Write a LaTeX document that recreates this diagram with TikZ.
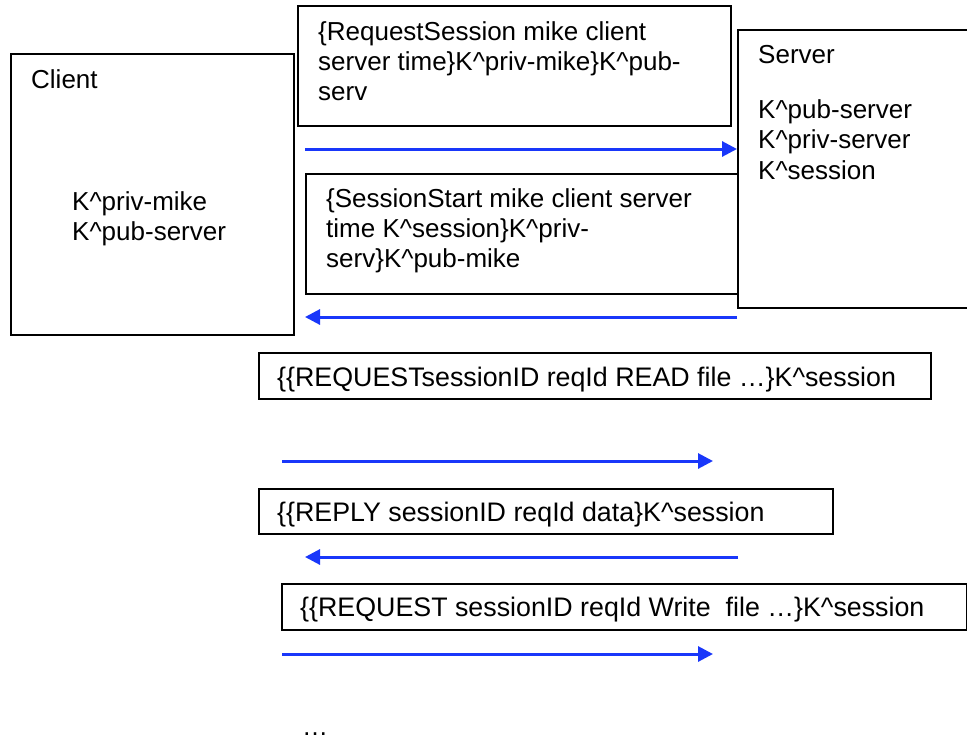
\documentclass[tikz,border=0pt]{standalone}
\usepackage{fontspec}
\setmainfont{Liberation Sans}
\usetikzlibrary{arrows.meta}
\definecolor{arrowblue}{RGB}{25,55,250}
\begin{document}
\begin{tikzpicture}[x=1pt,y=-1pt,
  txt/.style={anchor=base west, inner sep=0pt, font=\fontsize{26}{30}\selectfont},
  wtxt/.style={anchor=base west, inner sep=0pt, font=\fontsize{26.8}{30}\selectfont},
  box/.style={draw, line width=1.5pt, anchor=north west, inner sep=0pt},
  msg/.style={draw=arrowblue, line width=3pt, -{Triangle[length=15pt,width=15pt]}}]
\clip (0,0) rectangle (967,740);
\fill[white] (0,0) rectangle (967,740);

% participants
\node[box, line width=2pt, minimum width=283pt, minimum height=281pt] (client) at (10,53) {};
\node[box, minimum width=270pt, minimum height=278pt] (server) at (737,29) {};
\node[txt] (clientlbl) at (31,88) {Client};
\node[txt] (ck1) at (72,210) {K\^{}priv-mike};
\node[txt] (ck2) at (72,240) {K\^{}pub-server};
\node[txt] (serverlbl) at (758,63) {Server};
\node[txt] (sk1) at (758,118) {K\^{}pub-server};
\node[txt] (sk2) at (758,148) {K\^{}priv-server};
\node[txt] (sk3) at (758,179) {K\^{}session};

% message 1
\node[box, fill=white, minimum width=433pt, minimum height=120pt] (m1) at (297,5) {};
\node[txt] (m1a) at (318,40) {\{RequestSession mike client};
\node[txt] (m1b) at (318,70) {server time\}K\^{}priv-mike\}K\^{}pub-};
\node[txt] (m1c) at (318,100) {serv};

% message 2
\node[box, fill=white, minimum width=432pt, minimum height=120pt] (m2) at (305,173) {};
\node[txt] (m2a) at (326,207) {\{SessionStart mike client server};
\node[txt] (m2b) at (326,237) {time K\^{}session\}K\^{}priv-};
\node[txt] (m2c) at (326,267) {serv\}K\^{}pub-mike};

% message 3
\node[box, minimum width=672pt, minimum height=46pt] (m3) at (258,352) {};
\node[wtxt] (m3a) at (277,386) {\{\{REQUESTsessionID reqId READ file …\}K\^{}session};
% message 4
\node[box, minimum width=574pt, minimum height=45pt] (m4) at (258,488) {};
\node[wtxt] (m4a) at (277,521) {\{\{REPLY sessionID reqId data\}K\^{}session};
% message 5
\node[box, minimum width=685pt, minimum height=46pt] (m5) at (281,583) {};
\node[wtxt] (m5a) at (300,616) {\{\{REQUEST sessionID reqId Write\ \ file …\}K\^{}session};

\node[txt] (dots) at (302,735) {…};

% arrows
\coordinate (a1s) at (305,149); \coordinate (a1e) at (737,149);
\coordinate (a2s) at (737,317); \coordinate (a2e) at (305,317);
\coordinate (a3s) at (282,461); \coordinate (a3e) at (713,461);
\coordinate (a4s) at (738,557); \coordinate (a4e) at (305,557);
\coordinate (a5s) at (282,654); \coordinate (a5e) at (713,654);
\draw[msg] (a1s) -- (a1e);
\draw[msg] (a2s) -- (a2e);
\draw[msg] (a3s) -- (a3e);
\draw[msg] (a4s) -- (a4e);
\draw[msg] (a5s) -- (a5e);
\end{tikzpicture}
\end{document}
